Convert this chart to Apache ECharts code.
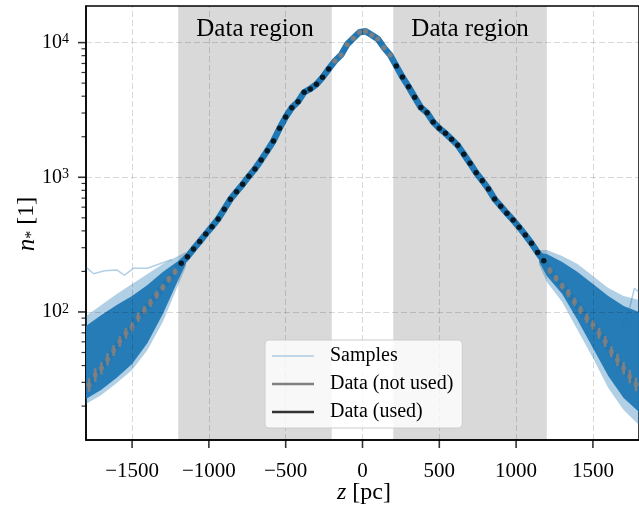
<!DOCTYPE html>
<html><head><meta charset="utf-8">
<script src="https://cdn.jsdelivr.net/npm/echarts@6/dist/echarts.min.js"></script>
<style>html,body{margin:0;padding:0;background:#fff}#c{width:639px;height:512px}</style>
</head><body><div id="c"></div>
<script>
// ---- data ----
const zData = [-1780,-1740,-1700,-1660,-1620,-1580,-1540,-1500,-1460,-1420,-1380,-1340,-1300,-1260,-1220,
  -1180,-1140,-1100,-1060,-1020,-980,-940,-900,-860,-820,-780,-740,-700,-660,-620,-580,-540,-500,-460,-420,-380,-340,-300,-260,-220,
  -180,-140,-100,-60,-20,20,60,100,140,180,
  220,260,300,340,380,420,460,500,540,580,620,660,700,740,780,820,860,900,940,980,1020,1060,1100,1140,1180,
  1220,1260,1300,1340,1380,1420,1460,1500,1540,1580,1620,1660,1700,1740,1780];
const nData = [28.7,34,38.2,44.6,51.7,60.3,69.5,77.8,91.4,103.5,117,134,152,175,199,
  230,257,294,333,379,430,490,579,687,782,887,1017,1153,1343,1575,1860,2310,2800,3290,3640,4280,4530,4900,5520,6370,
  7300,8090,9700,10770,11940,12130,11380,10640,9160,8090,
  6700,5550,4700,3930,3300,3020,2575,2310,2120,1915,1730,1482,1270,1082,944,818,690,610,540,482,425,373,324,276,240,
  203,178,156,138,119,103.5,89.8,80,69.5,60.3,50.7,44,38.2,33.1,29];
const errDex = [0.05,0.05,0.045,0.045,0.04,0.04,0.04,0.035,0.035,0.03,0.03,0.03,0.025,0.025,0.025,
  0,0,0,0,0,0,0,0,0,0,0,0,0,0,0,0,0,0,0,0,0,0,0,0,0,
  0.01,0.01,0.01,0.01,0.01,0.01,0.01,0.01,0.01,0.01,
  0,0,0,0,0,0,0,0,0,0,0,0,0,0,0,0,0,0,0,0,0,0,0,0,0,
  0.025,0.025,0.025,0.03,0.03,0.03,0.035,0.035,0.04,0.04,0.04,0.045,0.045,0.05,0.05];

// sample spread (envelopes) in the tails
const leftZ = [-1800,-1700,-1600,-1500,-1400,-1300,-1200,-1150];
const leftOuterHigh = [93.4,112.7,136,161.4,191.5,227,260.4,279];
const leftOuterLow  = [20.7,24.2,29.7,37.1,52.2,84.3,158.7,216];
const leftCoreHigh  = [78.8,95,112.7,131.5,158.7,198,239,265];
const leftCoreLow   = [22.6,26.4,32.4,41.1,58.9,96.6,172.8,227];
const rightZ = [1150,1200,1300,1400,1500,1600,1700,1800];
const rightOuterHigh = [288.5,288.5,260.4,227,185,150.8,131.5,122.8];
const rightOuterLow  = [223,167,118.6,73.5,45.6,27.3,18.7,14.5];
const rightCoreHigh  = [274,269.6,235,198,161.4,131.5,110.8,100];
const rightCoreLow   = [235,185,136,87.2,54,33.5,23,18.1];
// individual outlying sample lines
const leftOutZ = [-1800,-1750,-1680,-1600,-1550,-1490,-1400,-1310,-1240];
const leftOutN = [215,192,202,205,188,211,211,230,245];
const rightOutZ = [1690,1740,1770,1800];
const rightOutN = [75,108,150,140];

const xTicks = [-1500,-1000,-500,0,500,1000,1500];
const yTicks = [100,1000,10000];
const yMinorTicks = [20,30,40,50,60,70,80,90,200,300,400,500,600,700,800,900,2000,3000,4000,5000,6000,7000,8000,9000];
const regions = [[-1200,-200],[200,1200]];
const xRange = [-1800,1800];
const yRange = [11.2,18700];

// ---- chart ----
const FONT = 'Liberation Serif';
const BLUE = '#1f77b4';
const used = [], notUsed = [];
zData.forEach((z,i)=>{
  const inR = regions.some(r=>z>=r[0] && z<=r[1]);
  (inR ? used : notUsed).push([z, nData[i], errDex[i]]);
});

function band(zArr, lo, hi, color){
  return {
    type:'custom', name:'Samples', silent:true, clip:true, z:2,
    data:[[zArr[0], lo[0]]],
    renderItem:function(params, api){
      const pts=[];
      for(let i=0;i<zArr.length;i++) pts.push(api.coord([zArr[i], hi[i]]));
      for(let i=zArr.length-1;i>=0;i--) pts.push(api.coord([zArr[i], lo[i]]));
      return {type:'polygon', shape:{points:pts}, style:{fill:color}};
    }
  };
}
function tickSeries(data, size, offset){
  return {type:'scatter', z:10, silent:true, clip:false, symbol:'rect', symbolSize:size, symbolOffset:offset,
    data:data, itemStyle:{color:'#000'}};
}

const chart = echarts.init(document.getElementById('c'), null, {renderer:'canvas'});
const option = {
  animation:false,
  grid:{left:86, right:-2, top:6, bottom:72, show:true, borderColor:'#000', borderWidth:1.5, backgroundColor:'transparent'},
  xAxis:{type:'value', min:xRange[0], max:xRange[1],
    axisLine:{show:true, onZero:false, lineStyle:{color:'#000', width:1.5}},
    axisTick:{show:false},
    axisLabel:{customValues:xTicks, fontFamily:FONT, fontSize:21, color:'#000', margin:21,
      formatter:v=> v<0 ? '\u2212'+Math.abs(v) : String(v)},
    splitLine:{show:false}},
  yAxis:{type:'log', logBase:10, min:yRange[0], max:yRange[1],
    axisLine:{show:true, onZero:false, lineStyle:{color:'#000', width:1.5}},
    axisTick:{show:false},
    axisLabel:{customValues:yTicks, margin:17, color:'#000',
      formatter:v=> '{b|10}{s|'+Math.round(Math.log10(v))+'}',
      rich:{b:{fontFamily:FONT, fontSize:20, color:'#000', verticalAlign:'bottom'},
            s:{fontFamily:FONT, fontSize:14, color:'#000', verticalAlign:'top'}}},
    splitLine:{show:false}, minorTick:{show:false}},
  legend:{orient:'vertical', left:265, top:340, padding:[6,9,6,7], itemGap:8, itemWidth:42, itemHeight:14,
    backgroundColor:'rgba(255,255,255,0.8)', borderColor:'#cccccc', borderWidth:1, borderRadius:4,
    selectedMode:false, z:10,
    textStyle:{fontFamily:FONT, fontSize:20, color:'#000', padding:[0,0,0,11]},
    data:[
      {name:'Samples', icon:'path://M0,0H40V1.5H0Z', itemStyle:{color:'rgba(31,119,180,0.35)'}},
      {name:'Data (not used)', icon:'path://M0,0H40V2.6H0Z', itemStyle:{color:'#808080'}},
      {name:'Data (used)', icon:'path://M0,0H40V2.6H0Z', itemStyle:{color:'#000'}}
    ]},
  graphic:[
    {type:'text', x:27, y:224, rotation:Math.PI/2, z:10,
     style:{text:'{i|n}{s|*} [1]', fontFamily:FONT, fontSize:24, fill:'#000', align:'center', verticalAlign:'middle',
       rich:{i:{fontFamily:FONT, fontSize:25, fontStyle:'italic'}, s:{fontFamily:FONT, fontSize:16, verticalAlign:'bottom'}}}},
    {type:'text', x:364, y:493, z:10,
     style:{text:'{i|z} [pc]', fontFamily:FONT, fontSize:24, fill:'#000', align:'center', verticalAlign:'middle',
       rich:{i:{fontFamily:FONT, fontSize:24, fontStyle:'italic'}}}}
  ],
  series:[
    {type:'line', z:1, silent:true, data:[[0,1000]], showSymbol:false, lineStyle:{opacity:0},
     markArea:{silent:true, itemStyle:{color:'rgba(0,0,0,0.15)'},
       label:{show:true, position:'insideTop', distance:11, fontFamily:FONT, fontSize:25, color:'#000'},
       data: regions.map(r=>[{xAxis:r[0], name:'Data region'},{xAxis:r[1]}])},
     markLine:{silent:true, symbol:['none','none'], label:{show:false},
       lineStyle:{type:[6,3], color:'rgba(0,0,0,0.15)', width:1},
       data: xTicks.map(v=>({xAxis:v})).concat(yTicks.map(v=>({yAxis:v})))}},
    band(leftZ, leftOuterLow, leftOuterHigh, 'rgba(31,119,180,0.35)'),
    band(rightZ, rightOuterLow, rightOuterHigh, 'rgba(31,119,180,0.35)'),
    band(leftZ, leftCoreLow, leftCoreHigh, 'rgba(31,119,180,0.95)'),
    band(rightZ, rightCoreLow, rightCoreHigh, 'rgba(31,119,180,0.95)'),
    {type:'line', name:'Samples', z:2, silent:true, showSymbol:false, data:leftOutZ.map((z,i)=>[z,leftOutN[i]]),
     lineStyle:{color:'rgba(31,119,180,0.35)', width:1.5}},
    {type:'line', name:'Samples', z:2, silent:true, showSymbol:false, data:rightOutZ.map((z,i)=>[z,rightOutN[i]]),
     lineStyle:{color:'rgba(31,119,180,0.35)', width:1.5}},
    {type:'line', name:'Samples', z:2, silent:true, showSymbol:false, data:zData.map((z,i)=>[z,nData[i]]),
     lineStyle:{color:BLUE, width:6.5}},
    {type:'custom', name:'Data (not used)', z:3, silent:true, data:notUsed,
     renderItem:function(params, api){
       const x=api.value(0), v=api.value(1), e=api.value(2);
       const p1=api.coord([x, v*Math.pow(10,e)]), p2=api.coord([x, v/Math.pow(10,e)]);
       return {type:'line', shape:{x1:p1[0],y1:p1[1],x2:p2[0],y2:p2[1]}, style:{stroke:'#808080', lineWidth:2.6}};
     }},
    {type:'scatter', name:'Data (not used)', z:4, silent:true, symbol:'circle', symbolSize:5.5, data:notUsed,
     itemStyle:{color:'#808080'}},
    {type:'scatter', name:'Data (used)', z:4, silent:true, symbol:'circle', symbolSize:5.5, data:used,
     itemStyle:{color:'#000'}},
    // axis ticks, placed through the axes' own scales
    tickSeries(xTicks.map(v=>[v, yRange[0]]), [1.6,8], [0,4]),
    tickSeries(yTicks.map(v=>[xRange[0], v]), [8,1.6], [-4,0]),
    tickSeries(yMinorTicks.map(v=>[xRange[0], v]), [4.5,1.2], [-2.25,0])
  ]
};
chart.setOption(option);
</script></body></html>
